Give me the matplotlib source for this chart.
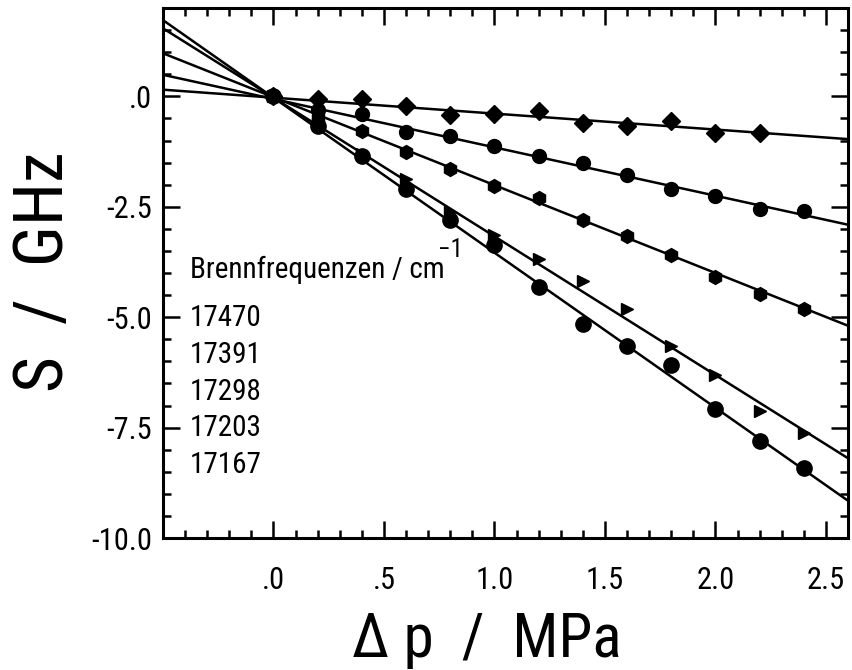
import matplotlib
matplotlib.use("Agg")
import matplotlib.pyplot as plt
from matplotlib import font_manager
import numpy as np

# ---------------- data ----------------
pressure = [0.0, 0.2, 0.4, 0.6, 0.8, 1.0, 1.2, 1.4, 1.6, 1.8, 2.0, 2.2, 2.4]

s_17470 = [0.0, -0.07, -0.06, -0.22, -0.43, -0.40, -0.34, -0.60, -0.67, -0.56, -0.84, -0.84, np.nan]
s_17391 = [0.0, -0.30, -0.41, -0.80, -0.90, -1.12, -1.36, -1.51, -1.78, -2.10, -2.25, -2.54, -2.59]
s_17298 = [0.0, -0.50, -0.79, -1.26, -1.65, -2.03, -2.31, -2.80, -3.17, -3.60, -4.08, -4.48, -4.81]
s_17203 = [0.0, -0.62, -1.30, -1.87, -2.61, -3.13, -3.69, -4.19, -4.81, -5.65, -6.31, -7.12, -7.62]
s_17167 = [0.0, -0.68, -1.34, -2.10, -2.80, -3.36, -4.31, -5.15, -5.65, -6.08, -7.08, -7.81, -8.41]

fit_slopes = [-0.361, -1.095, -1.99, -3.14, -3.51]
fit_intercepts = [-0.03, -0.06, -0.02, -0.03, -0.03]

legend_title = "Brennfrequenzen / cm"
legend_labels = ["17470", "17391", "17298", "17203", "17167"]

x_ticks = [0.0, 0.5, 1.0, 1.5, 2.0, 2.5]
x_ticklabels = [".0", ".5", "1.0", "1.5", "2.0", "2.5"]
y_ticks = [0.0, -2.5, -5.0, -7.5, -10.0]
y_ticklabels = [".0", "-2.5", "-5.0", "-7.5", "-10.0"]

# ---------------- font ----------------
avail = {f.name for f in font_manager.fontManager.ttflist}
fam = "DejaVu Sans"
for cand in ["Liberation Sans Narrow", "DejaVu Sans Condensed", "Roboto Condensed", "Open Sans Condensed"]:
    if cand in avail:
        fam = cand
        break
plt.rcParams["font.family"] = [fam, "DejaVu Sans"]

# ---------------- figure ----------------
fig = plt.figure(figsize=(8.53, 6.70), dpi=100)
L, R, T, B = 163, 848, 8, 538
W, H = 853, 670
ax = fig.add_axes([L / W, 1 - B / H, (R - L) / W, (B - T) / H])

series = [s_17470, s_17391, s_17298, s_17203, s_17167]
markers = ["D", "o", "h", ">", "o"]
msizes = [9, 10, 10, 9, 11]

xl = np.array([-0.5, 2.6])
for ys, m, ms, k, d in zip(series, markers, msizes, fit_slopes, fit_intercepts):
    ax.plot(xl, k * xl + d, color="black", lw=1.8, zorder=2)
    ax.plot(pressure, ys, linestyle="none", marker=m, ms=ms, color="black", zorder=3)

ax.set_xlim(-0.5, 2.6)
ax.set_ylim(-10, 2)
ax.set_xticks(x_ticks)
ax.set_xticklabels(x_ticklabels)
ax.set_yticks(y_ticks)
ax.set_yticklabels(y_ticklabels)
ax.set_xticks(np.arange(-0.5, 2.61, 0.1), minor=True)
ax.set_yticks(np.arange(-10, 2.01, 0.5), minor=True)
ax.tick_params(which="both", direction="in", top=True, right=True, width=1.8, color="black")
ax.tick_params(which="major", length=12, labelsize=22)
ax.tick_params(which="minor", length=6)
ax.tick_params(axis="x", which="major", pad=20)
ax.tick_params(axis="y", which="major", pad=8)
for sp in ax.spines.values():
    sp.set_linewidth(2.2)

# legend text block
ax.text((190 - L) / (R - L), (B - 270) / (B - T), legend_title, transform=ax.transAxes,
        fontsize=21, va="center", ha="left")
ax.text((438 - L) / (R - L), (B - 250) / (B - T), "\u22121", transform=ax.transAxes,
        fontsize=18, va="center", ha="left")
ys_px = [318, 355, 392, 428, 465]
for lab, yp in zip(legend_labels, ys_px):
    ax.text((190 - L) / (R - L), (B - yp) / (B - T), lab, transform=ax.transAxes,
            fontsize=21, va="center", ha="left")

fig.text(44 / W, 1 - 272 / H, "S  /  GHz", rotation=90, fontsize=50, ha="center", va="center")
fig.text(487 / W, 1 - 657 / H, "\u0394 p  /  MPa", fontsize=44, ha="center", va="baseline")

fig.savefig("out.png", dpi=100)
